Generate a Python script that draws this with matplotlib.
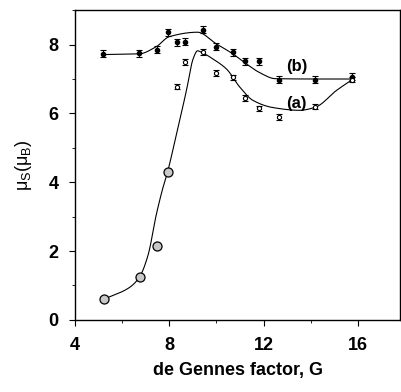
import numpy as np
import matplotlib
matplotlib.use("Agg")
import matplotlib.pyplot as plt
from matplotlib.ticker import MultipleLocator

plt.rcParams['font.family'] = ['Liberation Sans', 'DejaVu Sans']
plt.rcParams['mathtext.fontset'] = 'custom'
plt.rcParams['mathtext.rm'] = 'Liberation Sans'
plt.rcParams['mathtext.it'] = 'Liberation Sans'

# data points, series (b): filled dots with error bars
b_x = [5.2, 6.72, 7.47, 7.95, 8.31, 8.67, 9.44, 10.0, 10.7, 11.2, 11.8, 12.64, 14.2, 15.76]
b_y = [7.73, 7.75, 7.85, 8.36, 8.07, 8.09, 8.43, 7.94, 7.78, 7.52, 7.51, 6.98, 6.98, 7.07]
b_err = [0.1] * len(b_x)

# series (a): open dots with error bars
a_x = [8.31, 8.67, 9.43, 10.0, 10.7, 11.2, 11.8, 12.64, 14.2, 15.76]
a_y = [6.78, 7.49, 7.78, 7.17, 7.05, 6.45, 6.15, 5.89, 6.20, 6.98]
a_err = [0.08] * len(a_x)

# large gray circles
g_x = [5.23, 6.75, 7.5, 7.95]
g_y = [0.60, 1.26, 2.15, 4.30]

# smooth curve knots
curve_b_x = [5.2, 6.72, 7.45, 8.0, 9.2, 10.0, 10.7, 11.27, 11.8, 12.5, 14.2, 15.76]
curve_b_y = [7.71, 7.73, 7.94, 8.23, 8.36, 8.02, 7.73, 7.44, 7.2, 7.01, 7.0, 7.0]
curve_a_x = [5.23, 6.33, 6.75, 7.1, 7.46, 7.74, 7.91, 8.31, 8.73, 9.01, 9.2, 9.36, 9.86,
             10.43, 11.0, 11.55, 12.4, 13.53, 14.2, 15.1, 15.76]
curve_a_y = [0.6, 0.95, 1.26, 1.88, 3.09, 3.86, 4.25, 5.41, 6.67, 7.58, 7.82, 7.78, 7.58,
             7.29, 6.76, 6.38, 6.17, 6.09, 6.18, 6.67, 6.98]


def pchip(x, y, xn):
    x = np.asarray(x, float); y = np.asarray(y, float)
    h = np.diff(x); d = np.diff(y) / h
    m = np.zeros_like(y)
    for k in range(1, len(x) - 1):
        if d[k - 1] * d[k] > 0:
            w1 = 2 * h[k] + h[k - 1]; w2 = h[k] + 2 * h[k - 1]
            m[k] = (w1 + w2) / (w1 / d[k - 1] + w2 / d[k])
    m[0] = d[0]
    m[-1] = d[-1]
    idx = np.clip(np.searchsorted(x, xn) - 1, 0, len(x) - 2)
    t = (xn - x[idx]) / h[idx]
    h00 = 2 * t**3 - 3 * t**2 + 1; h10 = t**3 - 2 * t**2 + t
    h01 = -2 * t**3 + 3 * t**2; h11 = t**3 - t**2
    return h00 * y[idx] + h10 * h[idx] * m[idx] + h01 * y[idx + 1] + h11 * h[idx] * m[idx + 1]


fig = plt.figure(figsize=(4.01, 3.92), dpi=100)
ax = fig.add_axes([0.187, 0.184, 0.811, 0.79])

xb = np.linspace(curve_b_x[0], curve_b_x[-1], 400)
ax.plot(xb, pchip(curve_b_x, curve_b_y, xb), color='black', lw=0.8)
xa = np.linspace(curve_a_x[0], curve_a_x[-1], 400)
ax.plot(xa, pchip(curve_a_x, curve_a_y, xa), color='black', lw=0.8)

ax.errorbar(b_x, b_y, yerr=b_err, fmt='o', ms=3, color='black', mfc='black',
            ecolor='black', elinewidth=0.8, capsize=2.5, capthick=0.8)
ax.errorbar(a_x, a_y, yerr=a_err, fmt='o', ms=3, color='black', mfc='white',
            mew=0.8, ecolor='black', elinewidth=0.8, capsize=2.5, capthick=0.8)
ax.plot(g_x, g_y, 'o', ms=6.5, mfc='#c8c8c8', mec='black', mew=0.9)

ax.text(13.4, 6.3, '(a)', fontsize=12, fontweight='bold', ha='center', va='center')
ax.text(13.4, 7.37, '(b)', fontsize=12, fontweight='bold', ha='center', va='center')

ax.set_xlim(4, 17.8)
ax.set_ylim(0, 9)
ax.xaxis.set_major_locator(MultipleLocator(4))
ax.xaxis.set_minor_locator(MultipleLocator(2))
ax.yaxis.set_major_locator(MultipleLocator(2))
ax.yaxis.set_minor_locator(MultipleLocator(1))
ax.tick_params(which='major', direction='out', length=4, width=0.8, labelsize=13, pad=8)
ax.tick_params(which='minor', direction='out', length=2.5, width=0.6)
for lbl in ax.get_xticklabels() + ax.get_yticklabels():
    lbl.set_fontweight('bold')
for s in ax.spines.values():
    s.set_linewidth(1.0)

ax.set_xlabel('de Gennes factor, G', fontsize=13, fontweight='bold', labelpad=6)
ax.set_ylabel(r'$\mathrm{\mu_S(\mu_B)}$', fontsize=13, labelpad=10)

fig.savefig('out.png', dpi=100)
